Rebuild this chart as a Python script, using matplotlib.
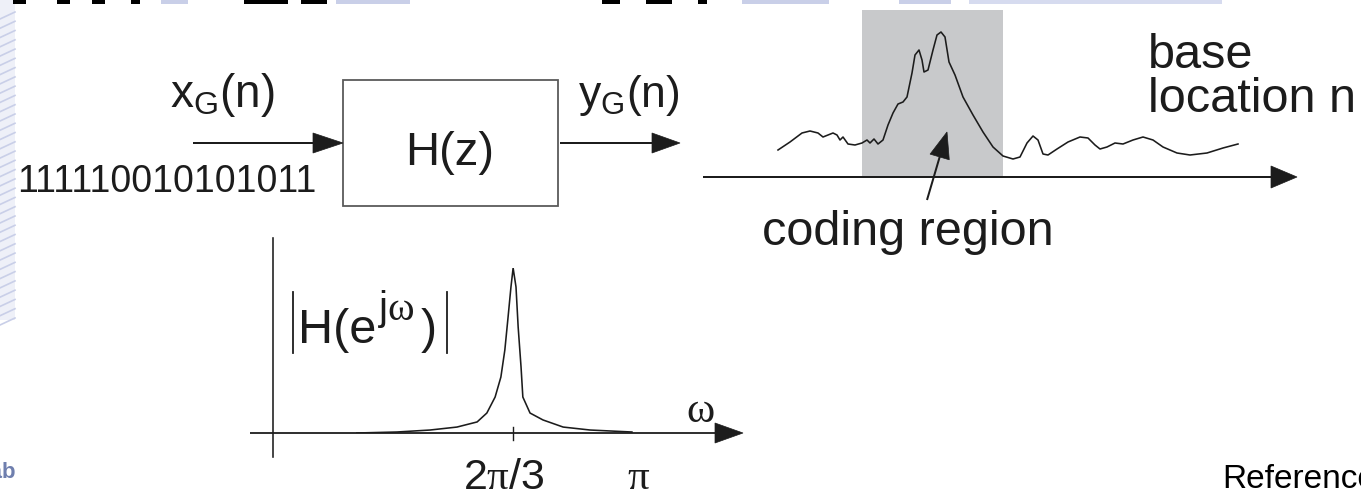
import numpy as np
from matplotlib import pyplot as plt
from matplotlib.patches import Polygon, Rectangle

# signal y_G(n): base location (px from start of axis) and amplitude above axis
sig_n = [80, 92, 104, 112, 120, 125, 130, 135, 139, 142, 145, 150, 157, 164, 169,
         172, 176, 180, 185, 190, 195, 200, 205, 209, 214, 217, 221, 224, 226, 230,
         235, 239, 243, 247, 251, 257, 265, 275, 285, 295, 305, 315, 322, 329, 335,
         340, 345, 350, 359, 370, 382, 390, 397, 402, 409, 417, 425, 435, 445, 455,
         465, 479, 492, 509, 525, 540]
sig_amp = [27, 35, 44, 46, 44, 40, 42, 44, 42, 37, 40, 33, 32, 34, 37,
           34, 38, 33, 37, 52, 64, 73, 75, 80, 104, 122, 127, 117, 105, 107,
           127, 142, 145, 140, 115, 102, 80, 62, 45, 30, 21, 18, 20, 34, 41,
           37, 23, 22, 28, 35, 40, 39, 32, 28, 30, 34, 33, 37, 40, 37,
           30, 24, 22, 24, 29, 33]
coding_region = (164, 305)
coding_height = 167

# |H(e^jw)|: omega in units of pi, normalised magnitude
spec_w = [0.233, 0.344, 0.436, 0.511, 0.567, 0.594, 0.617, 0.633, 0.644, 0.653, 0.661,
          0.667, 0.675, 0.681, 0.689, 0.694, 0.714, 0.75, 0.806, 0.881, 0.997]
spec_mag = [0.0, 0.006, 0.018, 0.036, 0.067, 0.121, 0.218, 0.339, 0.503, 0.703, 0.885,
            1.0, 0.885, 0.642, 0.4, 0.218, 0.121, 0.079, 0.036, 0.018, 0.006]

bits = "111110010101011"

plt.rcParams['font.family'] = ['Liberation Sans', 'DejaVu Sans']
plt.rcParams['mathtext.fontset'] = 'custom'
plt.rcParams['mathtext.rm'] = 'Liberation Sans'
plt.rcParams['mathtext.sf'] = 'Liberation Sans'
plt.rcParams['mathtext.it'] = 'Liberation Serif'

W, H = 1361, 491
INK = '#1c1c1c'
fig = plt.figure(figsize=(W / 100, H / 100), dpi=100)
ax = fig.add_axes([0, 0, 1, 1])
ax.set_xlim(0, W)
ax.set_ylim(H, 0)
ax.axis('off')


def pt(p):
    return p * 0.72


def px_axes(x0, y0, x1, y1):
    a = fig.add_axes([x0 / W, 1 - y1 / H, (x1 - x0) / W, (y1 - y0) / H])
    a.axis('off')
    a.set_zorder(-1)
    return a


def arrow(x0, y0, x1, y1, hl, hw, lw=2.0, color=INK):
    d = np.hypot(x1 - x0, y1 - y0)
    ux, uy = (x1 - x0) / d, (y1 - y0) / d
    bx, by = x1 - ux * hl, y1 - uy * hl
    ax.plot([x0, bx + ux], [y0, by + uy], color=color, lw=pt(lw), solid_capstyle='butt')
    ax.add_patch(Polygon([(x1, y1), (bx - uy * hw, by + ux * hw), (bx + uy * hw, by - ux * hw)],
                         closed=True, fc=color, ec=color, lw=0.5))


# slide background bits: faint stripes on the left, cut-off text at the top
ax.add_patch(Rectangle((0, 0), 15, 320, fc='#eef0f8', ec='none', zorder=0))
for y in np.linspace(12, 318, 34):
    ax.plot([0, 15], [y + 7, y], color='#c9cfe8', lw=1.2)
for x0, x1, c in [(13, 26, 'k'), (57, 70, 'k'), (92, 105, 'k'), (131, 140, 'k'),
                  (161, 188, '#c9cfe8'), (244, 288, 'k'), (301, 327, 'k'),
                  (336, 410, '#c9cfe8'), (602, 620, 'k'), (646, 672, 'k'), (698, 707, 'k'),
                  (742, 829, '#c9cfe8'), (899, 951, '#c9cfe8'), (969, 1222, '#d6dbef')]:
    ax.add_patch(Rectangle((x0, 0), x1 - x0, 4, fc=c, ec='none'))
ax.text(16, 478, 'Lab', ha='right', va='baseline', fontsize=16, color='#6f7fae',
        fontweight='bold')
ax.text(1222, 488, 'Reference', ha='left', va='baseline', fontsize=24, color='black')

# block diagram
ax.add_patch(Rectangle((343, 80), 215, 126, fc='none', ec='#5a5a5a', lw=pt(1.8)))
ax.text(450, 165, 'H(z)', ha='center', va='baseline', fontsize=34, color=INK)
arrow(193, 143, 343, 143, 30, 10)
arrow(560, 143, 680, 143, 28, 10)
ax.text(170, 107, r'$\mathrm{x_G(n)}$', ha='left', va='baseline', fontsize=33, color=INK)
ax.text(578, 107, r'$\mathrm{y_G(n)}$', ha='left', va='baseline', fontsize=32, color=INK)
ax.text(17, 192, bits, ha='left', va='baseline', fontsize=27, color=INK)

# signal along base location
sx = px_axes(698, 0, 1298, 177)
sx.set_xlim(0, 600)
sx.set_ylim(0, 177)
sx.add_patch(Rectangle((coding_region[0], 0), coding_region[1] - coding_region[0],
                       coding_height, fc='#c8c9cb', ec='none'))
sx.plot(sig_n, sig_amp, color=INK, lw=pt(1.6), solid_joinstyle='round')
arrow(703, 177, 1297, 177, 26, 11)
arrow(927, 200, 947, 132, 26, 10)
ax.text(1148, 68, 'base', ha='left', va='baseline', fontsize=35, color=INK)
ax.text(1148, 112, 'location n', ha='left', va='baseline', fontsize=35, color=INK)
ax.text(762, 245, 'coding region', ha='left', va='baseline', fontsize=35, color=INK)

# frequency response
fx = px_axes(273, 268, 633, 433)
fx.set_xlim(0, np.pi)
fx.set_ylim(0, 1)
fx.plot(np.array(spec_w) * np.pi, spec_mag, color=INK, lw=pt(1.6), solid_joinstyle='round')
fx.plot([2 * np.pi / 3] * 2, [-0.042, 0.036], color=INK, lw=pt(1.4), clip_on=False)
fx.text(0.642 * np.pi, -0.34, r'$\mathrm{2}\pi\mathrm{/3}$', ha='center', va='baseline',
        fontsize=31, color=INK)
fx.text(np.pi * 1.014, -0.34, r'$\pi$', ha='center', va='baseline', fontsize=31, color=INK)
ax.plot([273, 273], [238, 457], color=INK, lw=pt(1.6))
arrow(250, 433, 743, 433, 28, 10, lw=1.8)
ax.text(700, 422, r'$\omega$', ha='center', va='baseline', fontsize=31, color=INK)
ax.plot([293, 293], [292, 353], color=INK, lw=pt(1.8))
ax.plot([447, 447], [292, 353], color=INK, lw=pt(1.8))
ax.text(298, 343, 'H(e', ha='left', va='baseline', fontsize=35, color=INK)
ax.text(378, 320, r'$\mathrm{j}\omega$', ha='left', va='baseline', fontsize=29, color=INK)
ax.text(437, 343, ')', ha='right', va='baseline', fontsize=35, color=INK)

fig.savefig('out.png', dpi=100)
